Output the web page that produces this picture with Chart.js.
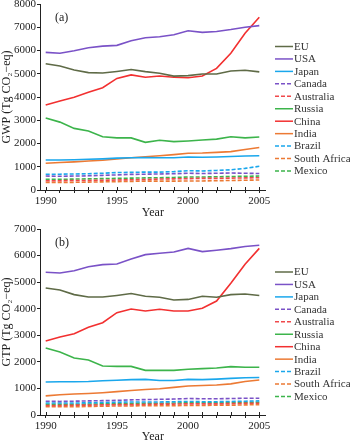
<!DOCTYPE html>
<html>
<head>
<meta charset="utf-8">
<script src="https://cdn.jsdelivr.net/npm/chart.js@4.4.1/dist/chart.umd.min.js"></script>
<style>
  body { margin: 0; background: #fff; }
  canvas { display: block; }
</style>
</head>
<body>
<canvas id="gwp" width="350" height="221"></canvas>
<canvas id="gtp" width="350" height="222"></canvas>
<script>
const years = [1990, 1991, 1992, 1993, 1994, 1995, 1996, 1997, 1998, 1999, 2000, 2001, 2002, 2003, 2004, 2005];
const countries = ['EU', 'USA', 'Japan', 'Canada', 'Australia', 'Russia', 'China', 'India', 'Brazil', 'South Africa', 'Mexico'];

// (a) GWP, Tg CO2-eq
const gwpEU = [5430, 5330, 5160, 5050, 5030, 5100, 5180, 5090, 5020, 4900, 4920, 4990, 4990, 5120, 5150, 5080];
const gwpUSA = [5920, 5880, 5990, 6120, 6190, 6220, 6420, 6550, 6590, 6680, 6850, 6780, 6820, 6900, 7000, 7070];
const gwpJapan = [1290, 1290, 1300, 1320, 1340, 1370, 1390, 1400, 1390, 1390, 1420, 1410, 1420, 1440, 1460, 1470];
const gwpCanada = [600, 590, 600, 610, 630, 650, 670, 680, 690, 700, 720, 710, 720, 730, 720, 710];
const gwpAustralia = [400, 400, 410, 410, 420, 430, 440, 450, 470, 480, 490, 500, 500, 510, 520, 530];
const gwpRussia = [3100, 2920, 2650, 2540, 2290, 2240, 2240, 2050, 2140, 2080, 2110, 2150, 2190, 2290, 2240, 2280];
const gwpChina = [3660, 3830, 3990, 4200, 4400, 4800, 4950, 4850, 4900, 4850, 4830, 4900, 5230, 5880, 6740, 7430];
const gwpIndia = [1150, 1180, 1210, 1250, 1280, 1330, 1390, 1430, 1470, 1520, 1580, 1590, 1620, 1650, 1740, 1830];
const gwpBrazil = [680, 680, 690, 700, 720, 750, 760, 770, 770, 790, 830, 820, 840, 870, 930, 1020];
const gwpSouthAfrica = [330, 330, 330, 340, 350, 360, 370, 380, 380, 380, 390, 390, 400, 410, 420, 430];
const gwpMexico = [460, 460, 470, 480, 490, 500, 510, 520, 530, 540, 560, 560, 570, 580, 590, 600];

// (b) GTP, Tg CO2-eq
const gtpEU = [4780, 4705, 4530, 4440, 4440, 4500, 4570, 4470, 4430, 4330, 4350, 4470, 4430, 4530, 4555, 4500];
const gtpUSA = [5370, 5345, 5430, 5580, 5660, 5680, 5870, 6035, 6085, 6135, 6270, 6150, 6200, 6260, 6340, 6390];
const gtpJapan = [1240, 1250, 1250, 1260, 1290, 1310, 1330, 1340, 1300, 1300, 1340, 1330, 1350, 1380, 1400, 1410];
const gtpCanada = [520, 510, 520, 530, 540, 550, 570, 580, 590, 600, 620, 610, 610, 620, 630, 630];
const gtpAustralia = [360, 360, 370, 370, 380, 390, 390, 400, 410, 410, 420, 420, 420, 430, 440, 440];
const gtpRussia = [2520, 2370, 2145, 2070, 1845, 1830, 1830, 1680, 1680, 1680, 1720, 1745, 1770, 1820, 1795, 1795];
const gtpChina = [2785, 2935, 3060, 3300, 3475, 3850, 3990, 3915, 3980, 3915, 3915, 4015, 4290, 4955, 5670, 6270];
const gtpIndia = [720, 760, 790, 810, 840, 880, 920, 960, 990, 1040, 1090, 1110, 1130, 1170, 1260, 1320];
const gtpBrazil = [450, 450, 450, 460, 470, 480, 490, 490, 490, 500, 510, 500, 500, 510, 520, 530];
const gtpSouthAfrica = [310, 310, 310, 320, 330, 340, 340, 350, 350, 350, 360, 360, 370, 370, 380, 390];
const gtpMexico = [400, 400, 400, 410, 420, 420, 430, 440, 440, 450, 460, 460, 460, 470, 470, 480];

const colors = ['#5f6b47', '#7a52c7', '#1aa7ec', '#7a52c7', '#f0494b', '#3cb44b', '#f23030', '#ec7a34', '#1aa7ec', '#ec7a34', '#3cb44b'];
const dashed = [false, false, false, true, true, false, false, false, true, true, true];

const FONT = '"Liberation Serif", "Times New Roman", serif';
const AXIS = '#222';

// legend on the right, panel tag, and x ticks that cross the axis
const extras = {
    id: 'extras',
    afterDraw(chart, args, opts) {
        const ctx = chart.ctx;
        ctx.save();
        // ticks crossing the x axis
        const xs = chart.scales.x;
        const yb = chart.chartArea.bottom;
        ctx.strokeStyle = AXIS;
        ctx.lineWidth = 1;
        xs.ticks.forEach(t => {
            const px = Math.round(xs.getPixelForValue(t.value)) + 0.5;
            ctx.beginPath();
            ctx.moveTo(px, yb - 3);
            ctx.lineTo(px, yb);
            ctx.stroke();
        });
        // panel tag
        ctx.fillStyle = '#222';
        ctx.font = '12px ' + FONT;
        ctx.textBaseline = 'middle';
        ctx.fillText(opts.tag, opts.tagX, opts.tagY);
        // legend
        ctx.font = '11px ' + FONT;
        chart.data.datasets.forEach((ds, i) => {
            const y = opts.legendTop + i * 12.45;
            ctx.strokeStyle = ds.borderColor;
            ctx.lineWidth = 1.5;
            ctx.setLineDash(ds.borderDash || []);
            ctx.beginPath();
            ctx.moveTo(opts.legendX, y);
            ctx.lineTo(opts.legendX + 18, y);
            ctx.stroke();
            ctx.setLineDash([]);
            ctx.fillStyle = '#333';
            ctx.fillText(ds.label, opts.legendX + 19, y + 0.5);
        });
        ctx.restore();
    }
};

function makeChart(id, series, yTitle, yMax, p) {
    const ctx = document.getElementById(id).getContext('2d');
    return new Chart(ctx, {
        type: 'line',
        data: {
            datasets: countries.map((name, i) => ({
                label: name,
                data: years.map((yr, j) => ({ x: yr, y: series[i][j] })),
                borderColor: colors[i],
                backgroundColor: colors[i],
                borderWidth: 1.6,
                borderDash: dashed[i] ? [4, 2] : [],
                pointRadius: 0,
                tension: 0,
                fill: false,
            }))
        },
        options: {
            responsive: false,
            animation: false,
            devicePixelRatio: 1,
            layout: {
                padding: { top: p.top, right: 84.3, left: 0, bottom: 0 }
            },
            scales: {
                x: {
                    type: 'linear',
                    min: 1989.6,
                    max: 2005.45,
                    grid: { drawOnChartArea: false, drawTicks: true, tickLength: 3, color: AXIS },
                    border: { display: true, color: AXIS, width: 1 },
                    ticks: {
                        stepSize: 1,
                        includeBounds: false,
                        autoSkip: false,
                        maxRotation: 0,
                        padding: 2,
                        color: '#222',
                        font: { family: FONT, size: 11 },
                        callback: v => (v % 5 === 0 ? String(v) : '')
                    },
                    title: {
                        display: true,
                        text: 'Year',
                        color: '#222',
                        padding: 0,
                        font: { family: FONT, size: 12, lineHeight: p.yearLH }
                    },
                    afterFit: s => {
                        s.height = p.xHeight;
                        s.paddingLeft = 0; s.paddingRight = 0;
                    }
                },
                y: {
                    min: 0,
                    max: yMax,
                    grid: { drawOnChartArea: false, drawTicks: true, tickLength: 3, color: AXIS },
                    border: { display: true, color: AXIS, width: 1 },
                    ticks: {
                        stepSize: 1000,
                        padding: 1,
                        color: '#222',
                        font: { family: FONT, size: 11 },
                        callback: v => String(v)
                    },
                    title: {
                        display: true,
                        text: yTitle,
                        color: '#222',
                        padding: 0,
                        font: { family: FONT, size: 12, lineHeight: 1.1 }
                    },
                    afterFit: s => {
                        s.width = 40;
                        s.paddingTop = 0; s.paddingBottom = 0;
                    }
                }
            },
            plugins: {
                legend: { display: false },
                tooltip: { enabled: false },
                extras: p.extras
            }
        },
        plugins: [extras]
    });
}

makeChart('gwp',
    [gwpEU, gwpUSA, gwpJapan, gwpCanada, gwpAustralia, gwpRussia, gwpChina, gwpIndia, gwpBrazil, gwpSouthAfrica, gwpMexico],
    'GWP (Tg CO\u2082\u2212eq)', 8000,
    { top: 4, xHeight: 31, yearLH: 1.3, extras: { tag: '(a)', tagX: 55, tagY: 18, legendX: 275, legendTop: 46.5 } });

makeChart('gtp',
    [gtpEU, gtpUSA, gtpJapan, gtpCanada, gtpAustralia, gtpRussia, gtpChina, gtpIndia, gtpBrazil, gtpSouthAfrica, gtpMexico],
    'GTP (Tg CO\u2082\u2212eq)', 7000,
    { top: 8, xHeight: 28, yearLH: 1.0, extras: { tag: '(b)', tagX: 55, tagY: 22, legendX: 275, legendTop: 51 } });
</script>
</body>
</html>
